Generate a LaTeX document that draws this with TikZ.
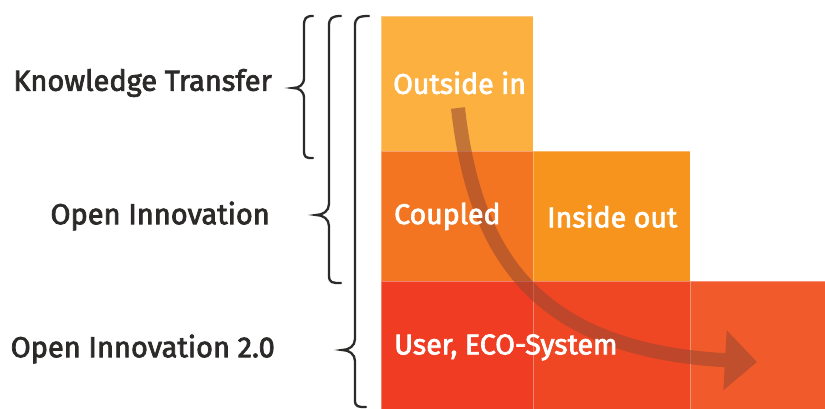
\documentclass[tikz,border=0pt]{standalone}
\usepackage{fontspec}
\setmainfont{Fira Sans}
\newfontfamily\squarefont{Fira Sans}[FakeBold=2.5]
\usetikzlibrary{arrows.meta}
\definecolor{labelgray}{HTML}{2B2A29}
\definecolor{outsideorange}{HTML}{FBB040}
\definecolor{coupledorange}{HTML}{F37421}
\definecolor{insideorange}{HTML}{F7941D}
\definecolor{userred}{HTML}{EF3C23}
\definecolor{midred}{HTML}{EF4724}
\definecolor{rightred}{HTML}{F15A2B}
\definecolor{flowbrown}{RGB}{150,70,48}
\tikzset{%
  tipF/.tip={Triangle[width=58pt,length=32pt]},
  cell/.style={draw=white, draw opacity=0.35, line width=0.8pt, anchor=north west, inner sep=0pt},
  celltext/.style={text=white, anchor=west, inner sep=0pt, font=\squarefont\fontsize{28.5}{30}\selectfont},
  sidelabel/.style={text=labelgray, anchor=east, inner sep=0pt, font=\squarefont\fontsize{29}{32}\selectfont},
  bracket/.style={draw=labelgray, line width=2.3pt, line cap=round}
}
\begin{document}
\begin{tikzpicture}[x=1pt,y=-1pt]
\useasboundingbox (0,0) rectangle (825,409);
% cells
\node[cell, fill=outsideorange, minimum width=152pt, minimum height=135pt] (outin) at (381,16) {};
\node[cell, fill=coupledorange, minimum width=152pt, minimum height=130pt] (coupled) at (381,151) {};
\node[cell, fill=insideorange, minimum width=157pt, minimum height=130pt] (insout) at (533,151) {};
\node[cell, fill=userred, minimum width=152pt, minimum height=128pt] (user) at (381,281) {};
\node[cell, fill=midred, minimum width=157pt, minimum height=128pt] (usermid) at (533,281) {};
\node[cell, fill=rightred, minimum width=135pt, minimum height=128pt] (userright) at (690,281) {};
% flow arrow
\coordinate (flowstart) at (458,108);
\coordinate (flowend) at (757,362);
\begin{scope}[transparency group, opacity=0.55]
\draw[draw=flowbrown, line width=14pt, -tipF] (flowstart) .. controls (475,260) and (540,350) .. (flowend);
\end{scope}
% cell texts
\node[celltext] (outintext) at ([xshift=12pt,yshift=1pt]outin.west) {Outside in};
\node[celltext] (coupledtext) at ([xshift=13pt]coupled.west) {Coupled};
\node[celltext] (insouttext) at ([xshift=14pt]insout.west) {Inside out};
\node[celltext] (usertext) at ([xshift=13pt,yshift=-2pt]user.west) {User, ECO-System};
% labels
\node[sidelabel] (kt) at (272,83) {Knowledge Transfer};
\node[sidelabel] (oi) at (270,216) {Open Innovation};
\node[sidelabel] (oitwo) at (275,349) {Open Innovation 2.0};
% braces
\draw[bracket] (313,16) .. controls (306,16) and (304,18) .. (304,26) -- (304,78)
  .. controls (304,85) and (299,88) .. (293,88)
  .. controls (299,88) and (304,91) .. (304,98) -- (304,150)
  .. controls (304,158) and (306,158) .. (313,158);
\draw[bracket] (341,16) .. controls (332,16) and (329,18) .. (329,26) -- (329,204)
  .. controls (329,211) and (323,215) .. (316,215)
  .. controls (323,215) and (329,219) .. (329,226) -- (329,275)
  .. controls (329,283) and (332,283) .. (341,283);
\draw[bracket] (369,16) .. controls (358,16) and (355,18) .. (355,26) -- (355,339)
  .. controls (355,346) and (349,350) .. (342,350)
  .. controls (349,350) and (355,354) .. (355,361) -- (355,400)
  .. controls (355,407) and (358,407) .. (366,407);
\end{tikzpicture}
\end{document}
